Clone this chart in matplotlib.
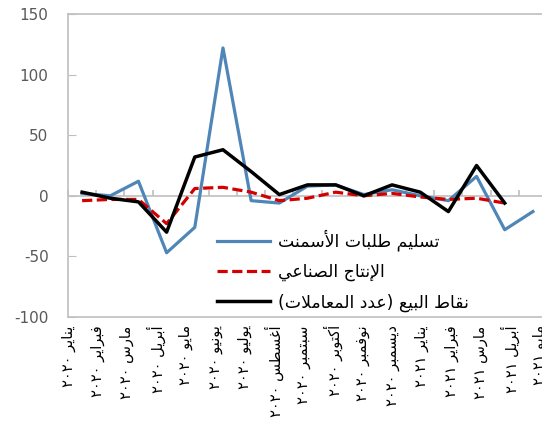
import re
import numpy as np
import matplotlib
matplotlib.use('Agg')
import matplotlib.pyplot as plt

# data (monthly, Jan 2020 - May 2021)
months = ['يناير', 'فبراير', 'مارس', 'أبريل', 'مايو', 'يونيو', 'يوليو', 'أغسطس',
          'سبتمبر', 'أكتوبر', 'نوفمبر', 'ديسمبر',
          'يناير', 'فبراير', 'مارس', 'أبريل', 'مايو']
years = ['٢٠٢٠'] * 12 + ['٢٠٢١'] * 5

cement = [2, 0, 12, -47, -26, 122, -4, -6, 8, 9, 1, 5, 0, -4, 16, -28, -13]
industry = [-4, -3, -3, -23, 6, 7, 3, -4, -2, 3, 0, 2, -1, -3, -2, -6, np.nan]
pos_trans = [3, -2, -5, -30, 32, 38, 20, 1, 9, 9, 0, 9, 3, -13, 25, -6, np.nan]

names = ['تسليم طلبات الأسمنت', 'الإنتاج الصناعي', 'نقاط البيع (عدد المعاملات)']
yticks = [-100, -50, 0, 50, 100, 150]

# matplotlib has no arabic shaping, so pick presentation forms by hand
# (isolated, final, initial, medial); None = letter does not join to the next
FORMS = {
    'ا': (0xFE8D, 0xFE8E, None, None), 'أ': (0xFE83, 0xFE84, None, None),
    'إ': (0xFE87, 0xFE88, None, None), 'ب': (0xFE8F, 0xFE90, 0xFE91, 0xFE92),
    'ت': (0xFE95, 0xFE96, 0xFE97, 0xFE98), 'ج': (0xFE9D, 0xFE9E, 0xFE9F, 0xFEA0),
    'د': (0xFEA9, 0xFEAA, None, None), 'ر': (0xFEAD, 0xFEAE, None, None),
    'س': (0xFEB1, 0xFEB2, 0xFEB3, 0xFEB4), 'ص': (0xFEB9, 0xFEBA, 0xFEBB, 0xFEBC),
    'ط': (0xFEC1, 0xFEC2, 0xFEC3, 0xFEC4), 'ع': (0xFEC9, 0xFECA, 0xFECB, 0xFECC),
    'غ': (0xFECD, 0xFECE, 0xFECF, 0xFED0), 'ف': (0xFED1, 0xFED2, 0xFED3, 0xFED4),
    'ق': (0xFED5, 0xFED6, 0xFED7, 0xFED8), 'ك': (0xFED9, 0xFEDA, 0xFEDB, 0xFEDC),
    'ل': (0xFEDD, 0xFEDE, 0xFEDF, 0xFEE0), 'م': (0xFEE1, 0xFEE2, 0xFEE3, 0xFEE4),
    'ن': (0xFEE5, 0xFEE6, 0xFEE7, 0xFEE8), 'و': (0xFEED, 0xFEEE, None, None),
    'ي': (0xFEF1, 0xFEF2, 0xFEF3, 0xFEF4),
    'لا': (0xFEFB, 0xFEFC, None, None), 'لأ': (0xFEF7, 0xFEF8, None, None),
    'لإ': (0xFEF9, 0xFEFA, None, None),
}


def ar(text):
    units = []
    i = 0
    while i < len(text):
        if text[i:i + 2] in FORMS:
            units.append(text[i:i + 2])
            i += 2
        else:
            units.append(text[i])
            i += 1
    out = []
    for j, u in enumerate(units):
        if u not in FORMS:
            out.append(u)
            continue
        iso, fin, ini, med = FORMS[u]
        prev = units[j - 1] if j > 0 else None
        nxt = units[j + 1] if j + 1 < len(units) else None
        jp = prev in FORMS and FORMS[prev][2] is not None
        jn = ini is not None and nxt in FORMS
        if jp and jn:
            c = med
        elif jp:
            c = fin
        elif jn:
            c = ini
        else:
            c = iso
        out.append(chr(c))
    s = ''.join(out)[::-1]
    s = re.sub('[٠-٩]+', lambda m: m.group(0)[::-1], s)
    return s.translate(str.maketrans('()', ')('))


plt.rcParams['font.family'] = ['DejaVu Sans']
plt.rcParams['axes.unicode_minus'] = False

grey = '#bfbfbf'
x = np.arange(len(months))

fig = plt.figure(figsize=(5.42, 4.32), dpi=100)
ax = fig.add_axes([68 / 542, 115 / 432, 479 / 542, 303 / 432])

ax.plot(x, cement, color='#4f86b8', lw=2.3, label=ar(names[0]), zorder=3)
ax.plot(x, industry, color='#d40000', lw=2.3, dashes=(3.2, 1.4), label=ar(names[1]), zorder=4)
ax.plot(x, pos_trans, color='black', lw=2.5, label=ar(names[2]), zorder=5)

ax.set_xlim(-0.5, len(months) - 0.5)
ax.set_ylim(-100, 150)
ax.set_yticks(yticks)
ax.set_yticklabels([str(v) for v in yticks])
ax.tick_params(axis='y', direction='in', length=6, color=grey, labelcolor='#595959',
               labelsize=11, pad=14)

# in the source the month labels run on a slightly wider step than the points
ax.set_xticks(np.linspace(-0.5, 16.25, len(months)))
ax.set_xticklabels([ar(m + ' ' + y) for m, y in zip(months, years)],
                   rotation=90, fontsize=10.5, color='black')
ax.tick_params(axis='x', length=0, pad=6)

for s in ax.spines.values():
    s.set_color(grey)
    s.set_linewidth(1.2)

# zero line with small category ticks
ax.axhline(0, color=grey, lw=1.2, zorder=1)
sec = ax.secondary_xaxis(100 / 250)
sec.set_xticks(np.arange(-0.5, len(months), 1.0))
sec.tick_params(direction='in', length=4, color=grey, labelbottom=False, labeltop=False,
                width=1.2)
sec.spines['bottom'].set_visible(False)
sec.spines['top'].set_visible(False)
sec.set_xticklabels([])

leg = ax.legend(loc='lower left', bbox_to_anchor=(0.311, 0.017), frameon=False,
                fontsize=12.4, handlelength=3.1, handletextpad=0.47,
                labelspacing=0.7, borderpad=0.0, borderaxespad=0.0)

fig.savefig('out.png', dpi=100)
